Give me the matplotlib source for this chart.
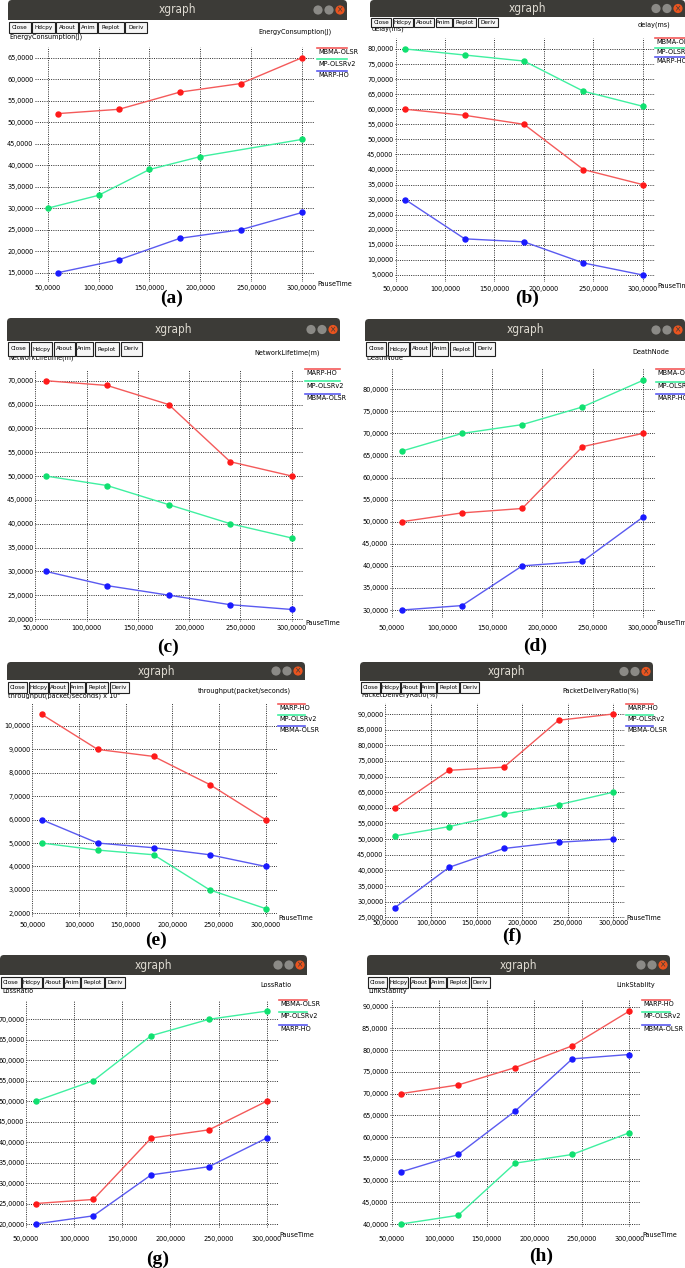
import numpy as np
import matplotlib
matplotlib.use('Agg')
import matplotlib.pyplot as plt
from matplotlib import font_manager as fm
from matplotlib.patches import FancyBboxPatch, Rectangle, Circle
from matplotlib.ticker import FuncFormatter, FixedLocator


def have(name):
    try:
        fm.findfont(fm.FontProperties(family=name), fallback_to_default=False)
        return True
    except ValueError:
        return False


if have('Liberation Sans Narrow'):
    plt.rcParams['font.family'] = ['Liberation Sans Narrow', 'DejaVu Sans']
    SMALL = 6.2
else:
    plt.rcParams['font.family'] = ['DejaVu Sans']
    plt.rcParams['font.stretch'] = 'condensed'
    SMALL = 5.2

W, H = 685, 1268

# ---- data (x = pause time) ----
pause = [60, 120, 180, 240, 300]
xticks = [50, 100, 150, 200, 250, 300]

# (a) energy consumption
a_mbma = [52, 53, 57, 59, 65]
a_mp_x = [50, 100, 150, 200, 300]
a_mp = [30, 33, 39, 42, 46]
a_marp = [15, 18, 23, 25, 29]
# (b) delay
b_mbma = [60, 58, 55, 40, 35]
b_mp = [80, 78, 76, 66, 61]
b_marp = [30, 17, 16, 9, 5]
# (c) network lifetime
c_marp = [70, 69, 65, 53, 50]
c_mp = [50, 48, 44, 40, 37]
c_mbma = [30, 27, 25, 23, 22]
# (d) death node
d_mbma = [50, 52, 53, 67, 70]
d_mp = [66, 70, 72, 76, 82]
d_marp = [30, 31, 40, 41, 51]
# (e) throughput
e_marp = [10.5, 9.0, 8.7, 7.5, 6.0]
e_mp = [5.0, 4.7, 4.5, 3.0, 2.2]
e_mbma = [6.0, 5.0, 4.8, 4.5, 4.0]
# (f) packet delivery ratio
f_marp = [60, 72, 73, 88, 90]
f_mp = [51, 54, 58, 61, 65]
f_mbma = [28, 41, 47, 49, 50]
# (g) loss ratio
g_mbma = [25, 26, 41, 43, 50]
g_mp = [50, 55, 66, 70, 72]
g_marp = [20, 22, 32, 34, 41]
# (h) link stability
h_marp = [70, 72, 76, 81, 89]
h_mp = [40, 42, 54, 56, 61]
h_mbma = [52, 56, 66, 78, 79]

names1 = ['MBMA-OLSR', 'MP-OLSRv2', 'MARP-HO']
names2 = ['MARP-HO', 'MP-OLSRv2', 'MBMA-OLSR']

LINE_C = ['#f45a5a', '#3ff0a0', '#5a5af0']
MARK_C = ['#ff1a1a', '#10e070', '#1a1aff']

panels = [
    dict(tag='(a)', cap=(172, 298), win=(8, 347, 0, 20), btn=(22, 33, 138),
         title=('EnergyConsumption(J)', 332, 32), ylab=('EnergyConsumption(J)', 9, 37),
         frame=(35, 315, 47, 282), xpx=(47.7, 302), ypx=((65, 57.7), (15, 272.7)),
         yt=(15, 65, 5), xlab_y=289, pause=(317, 284), leg=(317, 48, 11.3), names=names1,
         series=[(pause, a_mbma), (a_mp_x, a_mp), (pause, a_marp)]),
    dict(tag='(b)', cap=(527, 298), win=(370, 685, 0, 17), btn=(18, 27, 127),
         title=('delay(ms)', 670, 25), ylab=('delay(ms)', 372, 29),
         frame=(395, 655, 38, 282), xpx=(395.5, 642.7), ypx=((80, 49), (5, 275)),
         yt=(5, 80, 5), xlab_y=290, pause=(657, 286), leg=(655, 38, 9.5), names=names1,
         series=[(pause, b_mbma), (pause, b_mp), (pause, b_marp)]),
    dict(tag='(c)', cap=(168, 647), win=(7, 340, 318, 341), btn=(342, 356, 134),
         title=('NetworkLifetime(m)', 320, 353), ylab=('NetworkLifetime(m)', 8, 358),
         frame=(35, 303, 370, 622), xpx=(35.4, 291.7), ypx=((70, 380.7), (20, 619)),
         yt=(20, 70, 5), xlab_y=628, pause=(305, 623), leg=(305, 369, 12.3), names=names2,
         series=[(pause, c_marp), (pause, c_mp), (pause, c_mbma)]),
    dict(tag='(d)', cap=(535, 646), win=(365, 685, 319, 341), btn=(342, 356, 129),
         title=('DeathNode', 669, 352), ylab=('DeathNode', 366, 358),
         frame=(390, 655, 368, 618), xpx=(391.7, 642.7), ypx=((80, 389.3), (30, 610)),
         yt=(30, 80, 5), xlab_y=628, pause=(656, 623), leg=(656, 369, 12.5), names=names1,
         series=[(pause, d_mbma), (pause, d_mp), (pause, d_marp)]),
    dict(tag='(e)', cap=(156, 940), win=(7, 305, 662, 680), btn=(682, 693, 121),
         title=('throughput(packet/seconds)', 291, 691),
         ylab=('throughput(packet/seconds) x 10\u00b3', 8, 695),
         frame=(32, 277, 703, 917), xpx=(32.3, 265.7), ypx=((10, 726), (2, 913.3)),
         yt=(2, 10, 1), xlab_y=925, pause=(278, 918), leg=(278, 704, 10.8), names=names2,
         series=[(pause, e_marp), (pause, e_mp), (pause, e_mbma)]),
    dict(tag='(f)', cap=(512, 936), win=(360, 653, 662, 681), btn=(682, 693, 118),
         title=('PacketDeliveryRatio(%)', 639, 691), ylab=('PacketDeliveryRatio(%)', 361, 695),
         frame=(385, 625, 703, 920), xpx=(385.4, 613.3), ypx=((90, 714), (25, 917.3)),
         yt=(25, 90, 5), xlab_y=924, pause=(626, 918), leg=(626, 704, 10.8), names=names2,
         series=[(pause, f_marp), (pause, f_mp), (pause, f_mbma)]),
    dict(tag='(g)', cap=(158, 1259), win=(0, 307, 955, 975), btn=(977, 988, 124),
         title=('LossRatio', 292, 985), ylab=('LossRatio', 2, 991),
         frame=(26, 278, 1000, 1228), xpx=(26, 266.7), ypx=((70, 1019.3), (20, 1224)),
         yt=(20, 70, 5), xlab_y=1240, pause=(279, 1235), leg=(279, 1000, 12.3), names=names1,
         series=[(pause, g_mbma), (pause, g_mp), (pause, g_marp)]),
    dict(tag='(h)', cap=(541, 1256), win=(367, 670, 955, 975), btn=(977, 988, 122),
         title=('LinkStablity', 655, 985), ylab=('LinkStablity', 368, 991),
         frame=(390, 640, 1000, 1227), xpx=(391.7, 629.3), ypx=((90, 1006.7), (40, 1224)),
         yt=(40, 90, 5), xlab_y=1240, pause=(642, 1235), leg=(642, 1000, 12.3), names=names2,
         series=[(pause, h_marp), (pause, h_mp), (pause, h_mbma)]),
]

BTN_LABELS = ['Close', 'Hdcpy', 'About', 'Anim', 'Replot', 'Deriv']
BTN_REL = [64, 65, 63, 51, 74, 64]
BTN_GAP = 5

fig = plt.figure(figsize=(W / 100, H / 100), dpi=100)
bg = fig.add_axes([0, 0, 1, 1])
bg.set_xlim(0, W)
bg.set_ylim(H, 0)
bg.axis('off')

fmt = FuncFormatter(lambda v, _: ('%.4f' % v).replace('.', ','))

for p in panels:
    L, R, T, bb = p['win']
    # title bar
    bg.add_patch(FancyBboxPatch((L, T), R - L, bb - T,
                                boxstyle='round,pad=0,rounding_size=4',
                                fc='#3c3b37', ec='none', zorder=2))
    bg.add_patch(Rectangle((L, (T + bb) / 2), R - L, (bb - T) / 2, fc='#3c3b37', ec='none', zorder=2))
    cy = (T + bb) / 2
    bg.text((L + R) / 2, cy, 'xgraph', color='#dfdbd2', fontsize=8.5,
            ha='center', va='center', zorder=3)
    for dx, col in [(29, '#8b8a86'), (18, '#8b8a86'), (7, '#e9541f')]:
        bg.add_patch(Circle((R - dx, cy), 4.6, fc=col, ec='none', zorder=3))
    bg.text(R - 7, cy, '\u00d7', color='#3c3b37', fontsize=6, ha='center', va='center', zorder=4)

    # button row
    bt, bbot, bw = p['btn']
    scale = bw / (sum(BTN_REL) + BTN_GAP * 5)
    x = L + 1
    for lab, rw in zip(BTN_LABELS, BTN_REL):
        w = rw * scale
        bg.add_patch(Rectangle((x, bt), w, bbot - bt, fc='#f6f6f6', ec='#202020', lw=0.8, zorder=5))
        bg.text(x + w / 2, (bt + bbot) / 2, lab, fontsize=SMALL - 0.6, ha='center', va='center', zorder=6)
        x += w + BTN_GAP * scale

    # labels at the top
    t, tx, ty = p['title']
    bg.text(tx, ty, t, fontsize=SMALL, ha='right', va='center', zorder=4)
    yl, yx, yy = p['ylab']
    bg.text(yx, yy, yl, fontsize=SMALL, ha='left', va='center', zorder=4)

    # plotting area
    fl, fr, ft, fb = p['frame']
    ax = fig.add_axes([fl / W, 1 - fb / H, (fr - fl) / W, (fb - ft) / H])
    ax.patch.set_alpha(0)
    x50, x300 = p['xpx']
    sx = (x300 - x50) / 250.0
    ax.set_xlim(50 + (fl - x50) / sx, 50 + (fr - x50) / sx)
    (v1, p1), (v2, p2) = p['ypx']
    sy = (p2 - p1) / float(v1 - v2)
    ax.set_ylim(v2 - (fb - p2) / sy, v1 + (p1 - ft) / sy)
    lo, hi, st = p['yt']
    ax.xaxis.set_major_locator(FixedLocator(xticks))
    ax.yaxis.set_major_locator(FixedLocator(np.arange(lo, hi + st / 2, st)))
    ax.xaxis.set_major_formatter(fmt)
    ax.yaxis.set_major_formatter(fmt)
    xpad = max(p['xlab_y'] - 3.5 - fb, 0.5) * 0.72
    ax.tick_params(axis='x', length=0, pad=xpad, labelsize=SMALL)
    ax.tick_params(axis='y', length=0, pad=1.2, labelsize=SMALL)
    for s in ax.spines.values():
        s.set_visible(False)
    ax.grid(True, color='#2a2a2a', linestyle=(0, (1, 1.3)), linewidth=0.7)
    ax.set_axisbelow(True)
    for (xs, ys), lc, mc in zip(p['series'], LINE_C, MARK_C):
        ax.plot(xs, ys, color=lc, lw=1.0, zorder=3, clip_on=False)
        ax.plot(xs, ys, 'o', color=mc, ms=3.6, mec=mc, zorder=4, clip_on=False)

    # PauseTime + legend
    px, py = p['pause']
    bg.text(px, py, 'PauseTime', fontsize=SMALL, ha='left', va='center', zorder=4)
    lx, ly0, dy = p['leg']
    for i, (nm, lc) in enumerate(zip(p['names'], LINE_C)):
        ly = ly0 + i * dy
        bg.plot([lx, R], [ly, ly], color=lc, lw=1.2, zorder=4)
        bg.text(lx + 1, ly + 4.2, nm, fontsize=SMALL, ha='left', va='center', zorder=4)

    # caption
    cx, cyy = p['cap']
    bg.text(cx, cyy, p['tag'], fontsize=14, fontweight='bold',
            family=['Liberation Serif', 'DejaVu Serif'], ha='center', va='center', zorder=4)

fig.savefig('out.png', dpi=100, facecolor='white')
